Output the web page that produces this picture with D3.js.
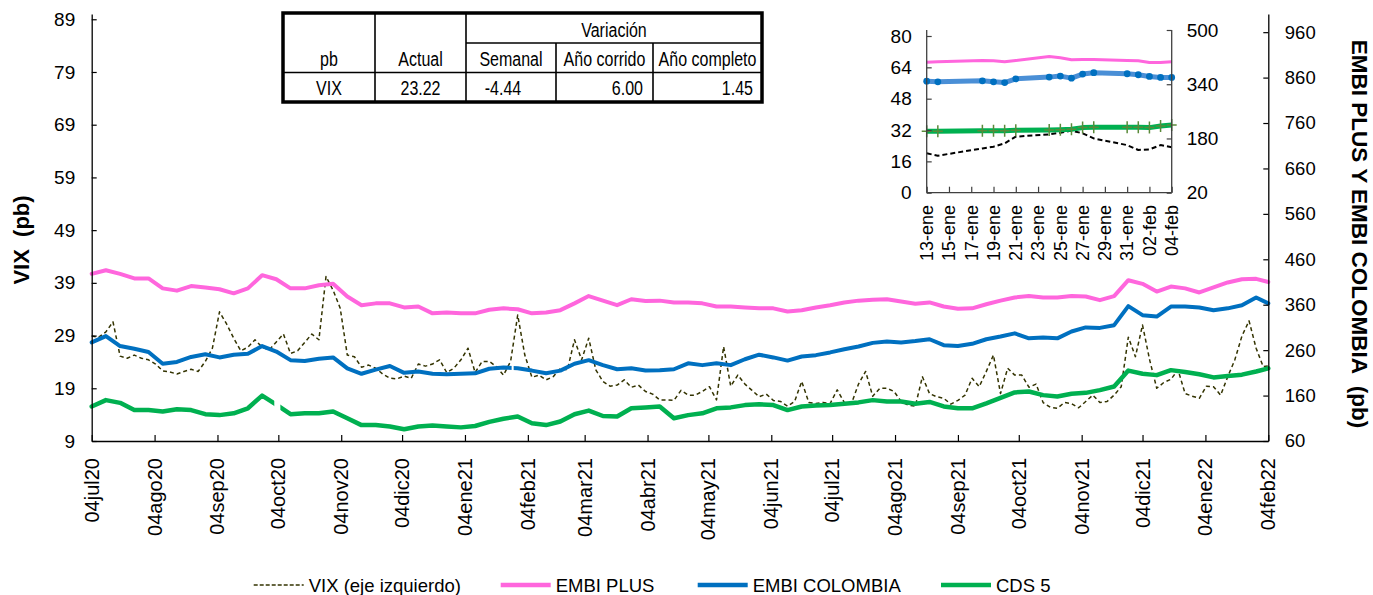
<!DOCTYPE html>
<html><head><meta charset="utf-8">
<script src="https://cdn.jsdelivr.net/npm/d3@7"></script>
<style>
html,body{margin:0;padding:0;background:#fff;}
svg{display:block;font-family:"Liberation Sans",Arial,Helvetica,sans-serif;}
</style></head><body>
<svg id="chart" width="1373" height="595"></svg>
<script>
// ---------------- DATA ----------------
const startDate = new Date(2020, 6, 4);   // 04jul20
const endDate   = new Date(2022, 1, 4);   // 04feb22
const weekStepDays = 7;     // EMBI / CDS sampled weekly (last value = endDate)
const vixStepDays  = 3.5;   // VIX sampled twice a week (last value = endDate)

const embiPlus = [428,436,428,418,418,396,391,401,398,394,385,396,425,416,396,396,403,406,378,359,363,363,354,356,341,343,341,341,
  349,352,350,341,343,348,363,379,369,359,372,368,369,365,365,363,356,356,354,352,352,345,348,354,359,365,369,371,
  372,367,362,365,356,351,352,361,369,376,379,376,376,379,378,370,379,414,406,389,400,396,387,398,409,416,417,410];

const embiColombia = [277,291,269,263,256,230,234,245,251,244,250,252,269,257,238,236,241,244,220,208,217,225,210,213,208,207,208,209,
  219,222,220,215,209,215,230,238,227,218,220,215,216,218,231,227,231,227,240,250,244,237,246,249,255,262,268,276,
  279,277,280,284,271,269,274,284,290,297,286,288,286,301,310,309,315,357,337,334,356,356,354,348,352,359,376,363];

const cds5 = [136,150,144,128,128,125,130,128,119,117,121,132,160,140,119,121,121,125,110,95,95,92,86,92,94,92,90,93,
  102,109,114,99,95,103,119,127,115,114,132,134,136,110,117,121,132,134,139,141,139,128,136,138,139,142,145,150,
  147,147,142,146,136,132,132,143,155,167,169,161,158,164,166,172,180,215,208,205,216,212,207,200,203,206,213,220];

// periods without data (breaks in the lines)
const cds5Gaps = [["2020-10-02","2020-10-05"]];
const embiColombiaGaps = [["2021-01-27","2021-01-28"]];

const vix = [28.9,28.7,29.7,31.6,25.1,24.7,25.3,24.7,24.4,23.6,22.3,22.1,21.7,22.2,22.6,22.2,24.1,26.6,33.5,31.2,
  28.5,26.1,26.8,28.2,26.8,26.3,27.8,29.3,25.6,26.1,27.7,29.3,28.2,40.2,37.6,34.2,25.3,25.0,23.0,23.4,
  22.8,21.7,20.9,20.8,21.3,20.9,23.6,23.2,23.6,24.4,22.0,22.8,24.4,26.6,22.0,24.1,
  24.1,23.1,21.5,24.1,32.9,25.3,21.1,21.5,20.6,21.2,22.8,22.5,28.2,24.4,28.5,22.5,20.3,19.4,19.6,20.6,
  19.2,19.6,18.4,17.9,16.8,16.8,16.7,18.6,17.7,17.7,18.4,19.3,16.8,26.9,19.4,21.5,19.8,18.6,17.4,17.9,
  16.7,16.5,15.6,16.5,20.3,16.3,16.1,16.3,16.1,18.7,16.3,16.1,19.8,22.2,17.5,19.0,
  19.0,18.4,16.5,15.8,15.6,21.2,18.0,17.4,17.1,16.0,16.7,17.7,20.9,19.3,22.2,25.3,18.0,22.8,21.5,21.5,
  19.2,19.8,16.3,15.4,15.2,16.3,16.1,15.3,16.5,17.7,16.3,16.5,17.7,19.3,28.7,25.0,31.0,24.4,19.0,20.1,
  20.7,22.5,18.0,17.5,17.1,19.4,19.3,17.7,21.2,24.4,28.9,31.8,26.6,23.1,23.22];

const monthAbbr = ["ene","feb","mar","abr","may","jun","jul","ago","sep","oct","nov","dic"];
const leftTicks  = [9,19,29,39,49,59,69,79,89];
const rightTicks = [60,160,260,360,460,560,660,760,860,960];

// inset (last days)
const insetDates = ["2022-01-13","2022-01-14","2022-01-18","2022-01-19","2022-01-20","2022-01-21","2022-01-24","2022-01-25",
  "2022-01-26","2022-01-27","2022-01-28","2022-01-31","2022-02-01","2022-02-02","2022-02-03","2022-02-04"];
const insetEmbiPlus = [405,406,410,409,406,410,422,418,412,413,413,410,409,404,404,406];
const insetEmbiColombia = [349,347,350,347,345,356,361,364,358,370,374,371,368,363,360,360];
const insetCds5 = [201,201,203,203,203,204,205,206,207,212,213,213,213,212,217,220];
const insetVix = [20.1,18.9,22.6,23.5,25.2,28.6,29.8,30.6,31.7,30.3,27.7,24.3,21.8,22.1,24.3,23.22];
const insetLeftTicks = [0,16,32,48,64,80];
const insetRightTicks = [20,180,340,500];

// table
const tableHeader = ["pb","Actual","Semanal","Año corrido","Año completo"];
const tableGroupTitle = "Variación";
const tableRow = ["VIX","23.22","-4.44","6.00","1.45"];

const legendLabels = ["VIX (eje izquierdo)","EMBI PLUS","EMBI COLOMBIA","CDS 5"];

// ---------------- STYLE ----------------
const C = {pink:"#ff66dd", blue:"#0070c0", green:"#00b050", vix:"#333300"};

const svg = d3.select("#chart");
const defs = svg.append("defs");
const DAY = 864e5;
const parse = d3.timeParse("%Y-%m-%d");
const seriesDates = (n, step) => d3.range(n - 1).map(i => new Date(startDate.getTime() + i * step * DAY)).concat([endDate]);
const wDates = seriesDates(embiPlus.length, weekStepDays);
const vDates = seriesDates(vix.length, vixStepDays);

// ---------------- MAIN SCALES ----------------
const x = d3.scaleTime().domain([startDate, endDate]).range([91.7, 1268.3]);
const yL = d3.scaleLinear().domain([9, 90]).range([441, 14]);
const yR = d3.scaleLinear().domain([60, 1000]).range([441, 14]);

let maskId = 0;
function drawSeries(g, dates, vals, ys, color, width, dash, gaps) {
  const data = vals.map((v, i) => ({d: dates[i], v}));
  const line = d3.line().defined(p => p.v != null).x(p => x(p.d)).y(p => ys(p.v));
  const p = g.append("path").datum(data).attr("d", line).attr("fill", "none")
    .attr("stroke", color).attr("stroke-width", width)
    .attr("stroke-linejoin", "round").attr("stroke-linecap", dash ? "butt" : "round")
    .attr("stroke-dasharray", dash || null);
  if (gaps && gaps.length) {
    const id = "gapmask" + (maskId++);
    const m = defs.append("mask").attr("id", id).attr("maskUnits", "userSpaceOnUse")
      .attr("x", 0).attr("y", 0).attr("width", 1373).attr("height", 595);
    m.append("rect").attr("width", 1373).attr("height", 595).attr("fill", "#fff");
    gaps.forEach(gp => {
      const a = x(parse(gp[0])), b = x(parse(gp[1]));
      m.append("rect").attr("x", a).attr("y", 0).attr("width", b - a).attr("height", 595).attr("fill", "#000");
    });
    p.attr("mask", `url(#${id})`);
  }
}
const gLines = svg.append("g");
drawSeries(gLines, vDates, vix, yL, C.vix, 1.5, "4,3");
drawSeries(gLines, wDates, embiPlus, yR, C.pink, 4);
drawSeries(gLines, wDates, embiColombia, yR, C.blue, 4, null, embiColombiaGaps);
drawSeries(gLines, wDates, cds5, yR, C.green, 4.5, null, cds5Gaps);

// axes
function styleAxis(g, fs) {
  g.selectAll(".domain").attr("stroke", "#000").attr("stroke-width", 1.3);
  g.selectAll(".tick line").attr("stroke", "#000").attr("stroke-width", 1.2);
  g.selectAll(".tick text").attr("font-size", fs).attr("fill", "#000")
    .attr("font-family", "Liberation Sans, Arial, sans-serif");
}
const axL = svg.append("g").attr("transform", "translate(91.7,0)")
  .call(d3.axisLeft(yL).tickValues(leftTicks).tickSizeInner(-5).tickSizeOuter(0).tickPadding(16.5));
styleAxis(axL, 19);
const axR = svg.append("g").attr("transform", "translate(1268.3,0)")
  .call(d3.axisRight(yR).tickValues(rightTicks).tickSizeInner(-5).tickSizeOuter(0).tickPadding(16.5));
styleAxis(axR, 18.5);

const monthTicks = d3.timeMonth.range(new Date(2020, 6, 1), new Date(2022, 2, 1)).map(d => d3.timeDay.offset(d, 3));
const fmtX = d => d3.timeFormat("%d")(d) + monthAbbr[d.getMonth()] + d3.timeFormat("%y")(d);
const axB = svg.append("g").attr("transform", "translate(0,441)")
  .call(d3.axisBottom(x).tickValues(monthTicks).tickSizeInner(-6).tickSizeOuter(0).tickFormat(""));
styleAxis(axB, 19);
svg.append("g").selectAll("text").data(monthTicks).join("text")
  .attr("transform", d => `translate(${x(d)},458) rotate(-90)`)
  .attr("text-anchor", "end").attr("dy", "0.35em")
  .attr("font-size", 20).attr("fill", "#000").text(fmtX);

// titles
svg.append("text").attr("transform", "translate(28.5,240) rotate(-90)")
  .attr("text-anchor", "middle").attr("font-weight", "bold").attr("font-size", 22)
  .style("white-space", "pre").text("VIX  (pb)");
svg.append("text").attr("transform", "translate(1351.5,234) rotate(90)")
  .attr("text-anchor", "middle").attr("font-weight", "bold").attr("font-size", 22.5)
  .style("white-space", "pre").text("EMBI PLUS Y EMBI COLOMBIA  (pb)");

// ---------------- TABLE ----------------
const tcols = [283, 375, 466, 556, 653, 762];
const trows = {top: 13, mid: 43, hdr: 72.5, bot: 102};
const gT = svg.append("g");
const tl = (x1, y1, x2, y2, w) => gT.append("line").attr("x1", x1).attr("y1", y1).attr("x2", x2).attr("y2", y2)
  .attr("stroke", "#000").attr("stroke-width", w || 1.6);
tl(tcols[1], trows.top, tcols[1], trows.bot);
tl(tcols[2], trows.top, tcols[2], trows.bot);
tl(tcols[3], trows.mid, tcols[3], trows.bot);
tl(tcols[4], trows.mid, tcols[4], trows.bot);
tl(tcols[2], trows.mid, tcols[5], trows.mid);
tl(tcols[0], trows.hdr, tcols[5], trows.hdr);
gT.append("rect").attr("x", tcols[0]).attr("y", trows.top).attr("width", tcols[5] - tcols[0])
  .attr("height", trows.bot - trows.top).attr("fill", "none").attr("stroke", "#000").attr("stroke-width", 3.5);
function ttext(str, px, py, anchor) {
  gT.append("text").attr("transform", `translate(${px},${py}) scale(0.8,1)`)
    .attr("text-anchor", anchor || "middle").attr("font-size", 20).attr("fill", "#000").text(str);
}
ttext(tableGroupTitle, (tcols[2] + tcols[5]) / 2, 37);
tableHeader.forEach((h, i) => ttext(h, (tcols[i] + tcols[i + 1]) / 2, 66));
ttext(tableRow[0], (tcols[0] + tcols[1]) / 2, 95);
ttext(tableRow[1], (tcols[1] + tcols[2]) / 2, 95);
ttext(tableRow[2], 503, 95);
ttext(tableRow[3], tcols[4] - 10, 95, "end");
ttext(tableRow[4], tcols[5] - 9, 95, "end");

// ---------------- INSET ----------------
const iDates = insetDates.map(parse);
const ix = d3.scaleTime().domain([iDates[0], iDates[iDates.length - 1]]).range([926.7, 1171.7]);
const iyL = d3.scaleLinear().domain([0, 80]).range([192.7, 36]);
const iyR = d3.scaleLinear().domain([20, 500]).range([192.7, 30]);
const gI = svg.append("g");
function iline(vals, ys, color, w, dash) {
  const data = vals.map((v, i) => ({d: iDates[i], v}));
  gI.append("path").datum(data)
    .attr("d", d3.line().x(p => ix(p.d)).y(p => ys(p.v)))
    .attr("fill", "none").attr("stroke", color).attr("stroke-width", w)
    .attr("stroke-dasharray", dash || null).attr("stroke-linejoin", "round");
  return data;
}
iline(insetVix, iyL, "#000", 2, "5,3");
const gd = iline(insetCds5, iyR, C.green, 5);
gI.selectAll(".plus").data(gd).join("path").attr("class", "plus")
  .attr("d", p => `M${ix(p.d) - 5},${iyR(p.v)}H${ix(p.d) + 5}M${ix(p.d)},${iyR(p.v) - 6}V${iyR(p.v) + 6}`)
  .attr("stroke", "#5a8a3a").attr("stroke-width", 1.5);
const bd = iline(insetEmbiColombia, iyR, "#4a8fd6", 5);
gI.selectAll(".dot").data(bd).join("circle").attr("class", "dot")
  .attr("cx", p => ix(p.d)).attr("cy", p => iyR(p.v)).attr("r", 3.4).attr("fill", C.blue);
iline(insetEmbiPlus, iyR, C.pink, 3);

// inset axes
const iTicks = d3.range(12).map(k => d3.timeDay.offset(iDates[0], 2 * k));
const iaxL = gI.append("g").attr("transform", "translate(926.7,0)")
  .call(d3.axisLeft(iyL).tickValues(insetLeftTicks).tickSizeInner(-5).tickSizeOuter(0).tickPadding(15));
const iaxR = gI.append("g").attr("transform", "translate(1171.7,0)")
  .call(d3.axisRight(iyR).tickValues(insetRightTicks).tickSizeInner(-5).tickSizeOuter(0).tickPadding(15));
const iaxB = gI.append("g").attr("transform", "translate(0,192.7)")
  .call(d3.axisBottom(ix).tickValues(iTicks).tickSizeInner(-6).tickSizeOuter(0).tickFormat(""));
[iaxL, iaxR, iaxB].forEach(g => {
  g.select(".domain").remove();
  g.selectAll(".tick line").attr("stroke", "#404040").attr("stroke-width", 1.2);
  g.selectAll(".tick text").attr("font-size", 19).attr("fill", "#000");
});
[[926.7, 30, 926.7, 192.7], [1171.7, 30, 1171.7, 192.7], [926.7, 192.7, 1171.7, 192.7]].forEach(l =>
  gI.append("line").attr("x1", l[0]).attr("y1", l[1]).attr("x2", l[2]).attr("y2", l[3])
    .attr("stroke", "#404040").attr("stroke-width", 1.3));
gI.append("g").selectAll("text").data(iTicks).join("text")
  .attr("transform", d => `translate(${ix(d)},205) rotate(-90)`)
  .attr("text-anchor", "end").attr("dy", "0.35em").attr("font-size", 18).attr("fill", "#000")
  .text(d => d3.timeFormat("%d")(d) + "-" + monthAbbr[d.getMonth()]);

// ---------------- LEGEND ----------------
const legendX = [253.7, 500.7, 697.7, 941];
const legendStyle = [
  {c: C.vix, w: 1.5, dash: "4,2"},
  {c: C.pink, w: 4.5},
  {c: C.blue, w: 4.5},
  {c: C.green, w: 4.5}];
const gLg = svg.append("g");
legendLabels.forEach((lab, i) => {
  gLg.append("line").attr("x1", legendX[i]).attr("x2", legendX[i] + 50).attr("y1", 585).attr("y2", 585)
    .attr("stroke", legendStyle[i].c).attr("stroke-width", legendStyle[i].w)
    .attr("stroke-dasharray", legendStyle[i].dash || null);
  gLg.append("text").attr("x", legendX[i] + 55).attr("y", 591.5).attr("font-size", 18.5)
    .attr("fill", "#000").text(lab);
});
</script>
</body></html>
